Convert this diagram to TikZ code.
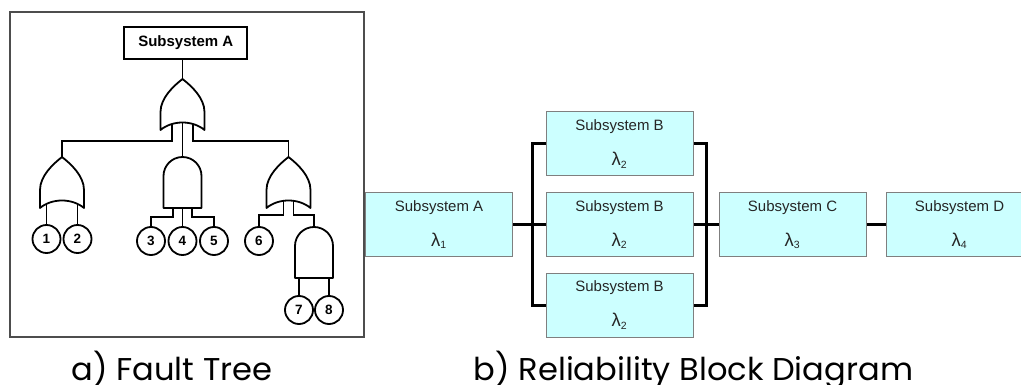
\documentclass[tikz,border=0pt]{standalone}
\usepackage{fontspec}
\setmainfont{Liberation Sans}
\newfontfamily\capfont[FakeStretch=1.02]{Poppins}
\pgfdeclarelayer{wires}
\pgfsetlayers{wires,main}
\definecolor{blockfill}{HTML}{CCFFFF}
\definecolor{blockedge}{HTML}{7F7F7F}
\definecolor{framegray}{HTML}{4D4D4D}
\definecolor{blocktext}{HTML}{262626}
% failure rate symbol with index
\newcommand{\lam}[1]{{\fontsize{18.5}{35}\selectfont λ}\textsubscript{#1}}
\tikzset{
  gate/.style={draw=black, line width=1.8pt, fill=white, line join=round},
  wire/.style={draw=black, line width=1.8pt},
  basic/.style={circle, draw=black, fill=white, line width=1.8pt, minimum size=28pt,
    inner sep=0pt, font=\fontsize{13.5}{13.5}\selectfont\bfseries},
  topevent/.style={draw=black, fill=white, line width=1.8pt, minimum width=123pt,
    minimum height=32pt, inner sep=0pt, font=\fontsize{15}{15}\selectfont\bfseries},
  block/.style={draw=blockedge, line width=1pt, fill=blockfill, minimum width=147pt,
    minimum height=64pt, inner sep=0pt, align=center, text=blocktext,
    font=\fontsize{15}{35}\selectfont},
  bus/.style={draw=black, line width=3pt},
  framebox/.style={draw=framegray, line width=1.6pt},
  caption/.style={font=\capfont\fontsize{31.5}{31.5}\selectfont, anchor=base},
  orgate/.pic={
    \path[gate] (0,0) .. controls (-9,7) and (-22,19) .. (-22,33) -- (-22,51)
      .. controls (-10,41) and (10,41) .. (22,51) -- (22,33)
      .. controls (22,19) and (9,7) .. (0,0) -- cycle;
    \coordinate (-top) at (0,0);
    \coordinate (-l) at (-10.5,40);
    \coordinate (-m) at (0,40);
    \coordinate (-r) at (10.5,40);
    \coordinate (-ll) at (-15.5,42);
    \coordinate (-rr) at (15.5,42);
    \coordinate (-ls) at (-5,40);
    \coordinate (-rs) at (5,40);
  },
  andgate/.pic={
    \path[gate] (-19,51) -- (-19,19) .. controls (-19,8.5) and (-10.5,0) .. (0,0)
      .. controls (10.5,0) and (19,8.5) .. (19,19) -- (19,51) -- cycle;
    \coordinate (-top) at (0,0);
    \coordinate (-bl) at (-15,51);
    \coordinate (-br) at (15,51);
    \coordinate (-bm) at (0,51);
    \coordinate (-bl2) at (-9.5,51);
    \coordinate (-br2) at (9.5,51);
  }
}
\begin{document}
\begin{tikzpicture}[x=1pt, y=-1pt]
  \useasboundingbox (0,0) rectangle (1021,385);
  \clip (0,0) rectangle (1021,385);

  % ---------- a) fault tree ----------
  \draw[framebox] (10,12) rectangle (364,337);
  \node[topevent] (ft) at (185.8,43) {Subsystem A};

  \pic (g1) at (182.5,79) {orgate};
  \pic (g2) at (62,157) {orgate};
  \pic (g3) at (182.5,157) {andgate};
  \pic (g4) at (288.5,157) {orgate};
  \pic (g5) at (314,227) {andgate};

  \node[basic] (c1) at (46.5,239) {1};
  \node[basic] (c2) at (77.5,239) {2};
  \node[basic] (c3) at (151,241) {3};
  \node[basic] (c4) at (182.5,241) {4};
  \node[basic] (c5) at (214,241) {5};
  \node[basic] (c6) at (259,241) {6};
  \node[basic] (c7) at (299,310) {7};
  \node[basic] (c8) at (329,310) {8};

  \begin{pgfonlayer}{wires}
    \draw[wire] (ft.south -| g1-top) -- (g1-top);
    \draw[wire] (g1-l) -- ++(0,22) -| (g2-top);
    \draw[wire] (g1-m) -- (g3-top);
    \draw[wire] (g1-r) -- ++(0,22) -| (g4-top);
    \draw[wire] (g2-ll) -- (c1.north);
    \draw[wire] (g2-rr) -- (c2.north);
    \draw[wire] (g3-bl2) -- ++(0,9) -| (c3.north);
    \draw[wire] (g3-bm) -- (c4.north);
    \draw[wire] (g3-br2) -- ++(0,9) -| (c5.north);
    \draw[wire] (g4-ls) -- ++(0,18) -| (c6.north);
    \draw[wire] (g4-rs) -- ++(0,18) -| (g5-top);
    \draw[wire] (g5-bl) -- (c7.north);
    \draw[wire] (g5-br) -- (c8.north);
  \end{pgfonlayer}

  \node[caption] (capa) at (172,380) {a) Fault Tree};

  % ---------- b) reliability block diagram ----------
  \node[block] (A) at (439,224.5) {Subsystem A\\\lam{1}};
  \node[block] (B1) at (619.5,144) {Subsystem B\\\lam{2}};
  \node[block] (B2) at (619.5,224.5) {Subsystem B\\\lam{2}};
  \node[block] (B3) at (619.5,305) {Subsystem B\\\lam{2}};
  \node[block] (C) at (792.5,224.5) {Subsystem C\\\lam{3}};
  \node[block] (D) at (959.5,224.5) {Subsystem D\\\lam{4}};
  \coordinate (busl) at (532,224.5);
  \coordinate (busr) at (706,224.5);

  \draw[bus] (A.east) -- (B2.west);
  \draw[bus] (B1.west) -- (B1.west -| busl) -- (B3.west -| busl) -- (B3.west);
  \draw[bus] (B2.east) -- (C.west);
  \draw[bus] (B1.east) -- (B1.east -| busr) -- (B3.east -| busr) -- (B3.east);
  \draw[bus] (C.east) -- (D.west);

  \node[caption] (capb) at (693.5,380) {b) Reliability Block Diagram};
\end{tikzpicture}
\end{document}
